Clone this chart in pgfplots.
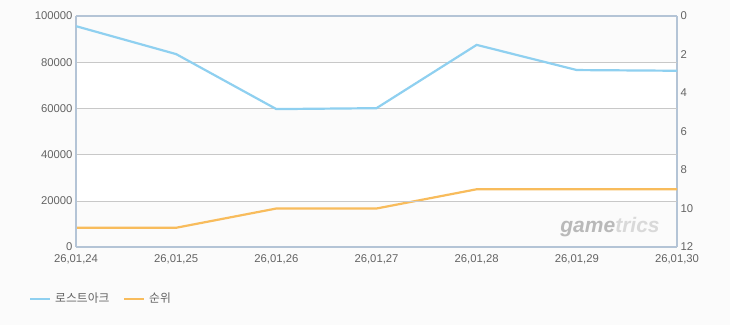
\documentclass[border=0pt]{standalone}
\usepackage{pgfplots}
\pgfplotsset{compat=1.18}
\usepackage{fontspec}
\setmainfont{Liberation Sans}
\newfontfamily\kr{Noto Sans CJK KR}
\definecolor{blueL}{RGB}{143,208,240}
\definecolor{orangeL}{RGB}{248,188,92}
\definecolor{frameC}{RGB}{180,196,214}
\definecolor{gridC}{RGB}{200,200,200}
\definecolor{txtC}{RGB}{100,100,100}
\definecolor{bgC}{RGB}{251,251,251}
\begin{document}
\begin{tikzpicture}[x=1pt,y=1pt]
\fill[bgC] (0,0) rectangle (730,325);
\fill[white] (76,78) rectangle (677,309);
\foreach \k in {0,2,4} {\fill[bgC] (76,{78+46.2*\k}) rectangle (677,{78+46.2*(\k+1)});}
\node[font=\fontsize{21}{22}\selectfont\bfseries\itshape, inner sep=0pt] at (610,98) {\textcolor{gray!55}{game}\textcolor{gray!30}{trics}};
\pgfplotsset{every axis/.append style={
  scale only axis, width=601pt, height=231pt,
  at={(76pt,78pt)}, anchor=south west,
  xmin=0, xmax=6, major tick length=0pt,
  tick label style={font=\fontsize{11.3}{12}\selectfont, text=txtC},
  /pgf/number format/assume math mode=true,
  axis line style={draw=frameC, line width=1.6pt}}}
\begin{axis}[
  axis y line*=right, axis x line=none,
  ymin=0, ymax=12, y dir=reverse,
  ytick={0,2,...,12},
  xmajorgrids, xtick={0,...,6}, xticklabels={},
  major grid style={gridC, dashed, line width=0.6pt},
  yticklabel style={xshift=0pt},
]
\addplot[orangeL, line width=2.2pt] coordinates {(0,11) (1,11) (2,10) (3,10) (4,9) (5,9) (6,9)};
\end{axis}
\begin{axis}[
  axis y line*=left, axis x line*=bottom,
  ymin=0, ymax=100000,
  ytick={0,20000,...,100000},
  scaled y ticks=false,
  yticklabel style={/pgf/number format/.cd, fixed, 1000 sep={}},
  xtick={0,...,6},
  xticklabels={{26,01,24},{26,01,25},{26,01,26},{26,01,27},{26,01,28},{26,01,29},{26,01,30}},
  xticklabel style={yshift=-4pt},
  ymajorgrids,
  major grid style={gridC, solid, line width=0.6pt},
]
\addplot[blueL, line width=2.2pt] coordinates {(0,95600) (1,83500) (2,59700) (3,60100) (4,87500) (5,76600) (6,76300)};
\end{axis}
\draw[frameC, line width=1.6pt] (76,309) -- (677,309);
\draw[blueL, line width=2.8pt] (30,26) -- (50,26);
\node[anchor=west, text=txtC, font=\kr\fontsize{11.8}{12}\selectfont, inner sep=0pt] at (55,26.5) {로스트아크};
\draw[orangeL, line width=2.8pt] (124,26) -- (144,26);
\node[anchor=west, text=txtC, font=\kr\fontsize{11.8}{12}\selectfont, inner sep=0pt] at (149,26.5) {순위};
\end{tikzpicture}
\end{document}
